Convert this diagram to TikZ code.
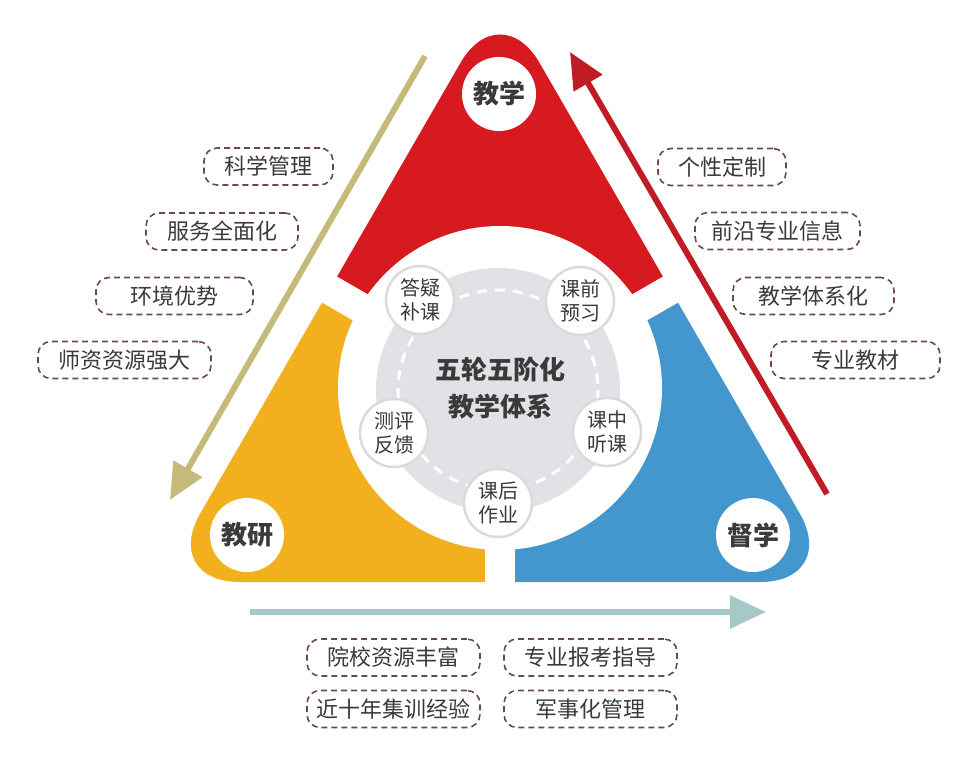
\documentclass[tikz,border=0pt]{standalone}
\usepackage{fontspec}
\setmainfont{Noto Sans CJK SC}
\usetikzlibrary{arrows.meta}
\definecolor{cred}{RGB}{214,26,32}
\definecolor{cyel}{RGB}{242,176,30}
\definecolor{cblue}{RGB}{68,150,206}
\definecolor{carrowred}{RGB}{192,28,38}
\definecolor{colive}{RGB}{196,186,122}
\definecolor{cteal}{RGB}{166,200,198}
\definecolor{cgray}{RGB}{226,226,230}
\definecolor{cring}{RGB}{218,218,220}
\definecolor{cbox}{RGB}{108,72,78}
\definecolor{ctext}{RGB}{58,58,58}
\tikzset{
  lbl/.style={draw=cbox, line width=1.6pt, dash pattern=on 6pt off 4pt,
    rounded corners=13pt, fill=white, minimum height=37pt, inner sep=0pt,
    text=ctext, font=\fontsize{22pt}{26pt}\selectfont},
  smallc/.style={circle, draw=cring, line width=2.5pt, fill=white,
    minimum size=68pt, inner sep=0pt, align=center, text=ctext,
    font=\fontsize{20pt}{24pt}\selectfont},
  cornerc/.style={circle, fill=white, minimum size=74pt, inner sep=0pt,
    text=ctext, font=\fontsize{26pt}{30pt}\selectfont\bfseries},
  titlec/.style={align=center, text=ctext, inner sep=0pt,
    font=\fontsize{26pt}{37pt}\selectfont\bfseries},
  bigarrow/.style={line width=6pt, -{Triangle[length=36pt,width=32pt]}},
}
\begin{document}
\begin{tikzpicture}[x=1pt,y=-1pt]
\useasboundingbox (0,0) rectangle (973,774);
\coordinate (c) at (500,388);
% rounded triangle split into three coloured sectors
\def\tri{(500,582) -- (839.3,582) -- (500,-5.6) -- (160.7,582) -- cycle}
\begin{scope}
  \clip (500,388) -- (-366,-112) -- (500,-1000) -- (1366,-112) -- cycle;
  \fill[cred, rounded corners=79pt] \tri;
\end{scope}
\begin{scope}
  \clip (500,388) -- (-366,-112) -- (-600,1500) -- (500,1500) -- cycle;
  \fill[cyel, rounded corners=79pt] \tri;
\end{scope}
\begin{scope}
  \clip (500,388) -- (1366,-112) -- (1600,1500) -- (500,1500) -- cycle;
  \fill[cblue, rounded corners=79pt] \tri;
\end{scope}
% white gaps and central hole
\draw[white, line width=30pt] (c) -- ++(0,300);
\draw[white, line width=30pt] (c) -- ++(-433,-250);
\draw[white, line width=30pt] (c) -- ++(433,-250);
\fill[white] (c) circle[radius=162];
% grey disc and dashed ring
\fill[cgray] (498,390) circle[radius=122];
\draw[white, line width=3pt, dash pattern=on 10pt off 8pt] (498,390) circle[radius=100];
% centre title
\node[titlec] (title) at (500,388.5) {五轮五阶化\\教学体系};
% five stage circles
\node[smallc] (s1) at (420,300) {答疑\\补课};
\node[smallc] (s2) at (580,301) {课前\\预习};
\node[smallc] (s3) at (394,433) {测评\\反馈};
\node[smallc] (s4) at (607,432) {课中\\听课};
\node[smallc] (s5) at (498,503) {课后\\作业};
% corner circles
\node[cornerc] (k1) at (499,94) {教学};
\node[cornerc] (k2) at (247,535) {教研};
\node[cornerc] (k3) at (753,535) {督学};
% arrows
\coordinate (a1s) at (425,56);
\coordinate (a1e) at (170,500);
\coordinate (a2s) at (827,494);
\coordinate (a2e) at (570,52);
\coordinate (a3s) at (250,612);
\coordinate (a3e) at (766,612);
\draw[bigarrow, draw=colive, fill=colive] (a1s) -- (a1e);
\draw[bigarrow, draw=carrowred, fill=carrowred] (a2s) -- (a2e);
\draw[bigarrow, draw=cteal, fill=cteal] (a3s) -- (a3e);
% left labels
\node[lbl, minimum width=129pt] (l1) at (268.5,166.5) {科学管理};
\node[lbl, minimum width=152pt] (l2) at (222,231.5) {服务全面化};
\node[lbl, minimum width=157pt] (l3) at (174.5,296) {环境优势};
\node[lbl, minimum width=173pt] (l4) at (124.5,360) {师资资源强大};
% right labels
\node[lbl, minimum width=128pt] (r1) at (722,167) {个性定制};
\node[lbl, minimum width=165pt] (r2) at (777.5,231) {前沿专业信息};
\node[lbl, minimum width=161pt] (r3) at (813.5,296) {教学体系化};
\node[lbl, minimum width=169pt] (r4) at (855.5,360) {专业教材};
% bottom labels
\node[lbl, minimum width=173pt] (b1) at (393.5,657.5) {院校资源丰富};
\node[lbl, minimum width=173pt] (b2) at (590.5,657.5) {专业报考指导};
\node[lbl, minimum width=173pt] (b3) at (393.5,709) {近十年集训经验};
\node[lbl, minimum width=173pt] (b4) at (590.5,709) {军事化管理};
\end{tikzpicture}
\end{document}
